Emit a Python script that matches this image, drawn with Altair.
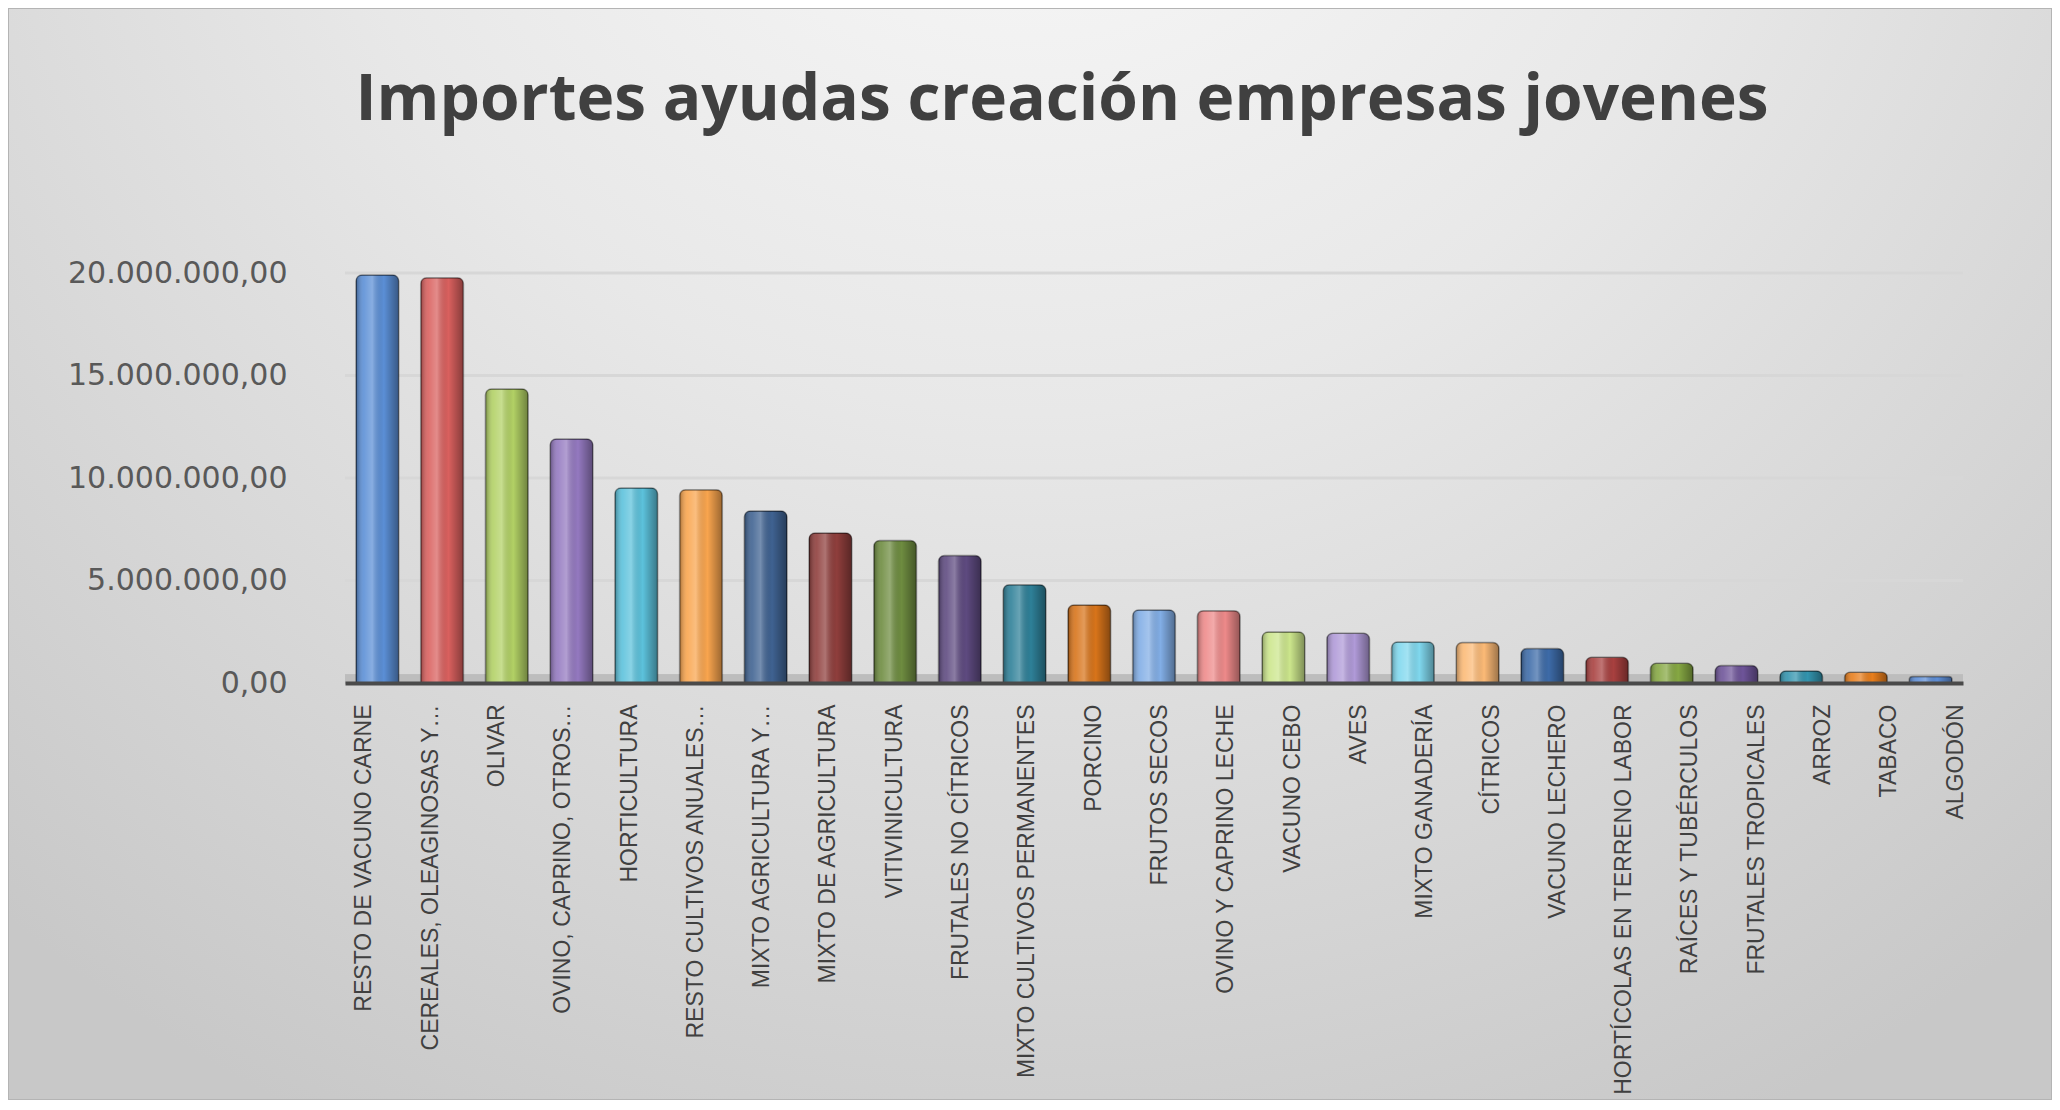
import altair as alt
import pandas as pd

title_text = "Importes ayudas creación empresas jovenes"

categories = [
    "RESTO DE VACUNO CARNE",
    "CEREALES, OLEAGINOSAS Y…",
    "OLIVAR",
    "OVINO, CAPRINO, OTROS…",
    "HORTICULTURA",
    "RESTO CULTIVOS ANUALES…",
    "MIXTO AGRICULTURA Y…",
    "MIXTO DE AGRICULTURA",
    "VITIVINICULTURA",
    "FRUTALES NO CÍTRICOS",
    "MIXTO CULTIVOS PERMANENTES",
    "PORCINO",
    "FRUTOS SECOS",
    "OVINO Y CAPRINO LECHE",
    "VACUNO CEBO",
    "AVES",
    "MIXTO GANADERÍA",
    "CÍTRICOS",
    "VACUNO LECHERO",
    "HORTÍCOLAS EN TERRENO LABOR",
    "RAÍCES Y TUBÉRCULOS",
    "FRUTALES TROPICALES",
    "ARROZ",
    "TABACO",
    "ALGODÓN",
]

values = [
    19900000, 19770000, 14340000, 11900000, 9510000, 9430000, 8390000,
    7320000, 6950000, 6220000, 4790000, 3800000, 3560000, 3530000,
    2490000, 2430000, 2000000, 1970000, 1680000, 1260000, 960000,
    850000, 590000, 530000, 320000,
]

bar_colors = [
    "#5B8FD6", "#D9605E", "#B2D165", "#9479C0", "#5CC2DC", "#F9A54E",
    "#3F6291", "#8F3E3C", "#6E8C40", "#5E4A80", "#2E8098", "#D8741A",
    "#82AEE6", "#EE8A8A", "#CCE68C", "#B09AD8", "#80D8EE", "#FCBA76",
    "#3D6BA8", "#A8403F", "#86A843", "#6E5499", "#3394AE", "#E87E1C",
    "#5E8ED6",
]

tick_values = [0, 5000000, 10000000, 15000000, 20000000]

df = pd.DataFrame({"cat": categories, "val": values})
grid_df = pd.DataFrame({"val": tick_values[1:]})

W, H = 1618, 410
PAD = {"left": 337, "top": 265, "right": 89, "bottom": 417}

bg = alt.Chart(alt.Data(values=[{"k": 1}])).mark_rect(
    fill=alt.Gradient(
        gradient="radial",
        stops=[
            alt.GradientStop(color="#FBFBFB", offset=0),
            alt.GradientStop(color="#E8E8E8", offset=0.45),
            alt.GradientStop(color="#C8C8C8", offset=1),
        ],
        x1=0.5, y1=0.08, r1=0, x2=0.5, y2=0.08, r2=0.78,
    ),
    stroke="#B4B4B4",
    strokeWidth=2,
).encode(
    x=alt.value(-PAD["left"]),
    x2=alt.value(W + PAD["right"]),
    y=alt.value(-PAD["top"]),
    y2=alt.value(H + PAD["bottom"]),
)

yscale = alt.Scale(domain=[0, 20000000], nice=False)

grid = alt.Chart(grid_df).mark_rule(color="#D7D7D7", strokeWidth=3).encode(
    y=alt.Y("val:Q", scale=yscale, title=None)
)

floor = alt.Chart(grid_df).mark_rule(color="#BDBDBD", strokeWidth=9, yOffset=-4).encode(
    y=alt.datum(0)
)

xenc = alt.X(
    "cat:N",
    sort=categories,
    scale=alt.Scale(paddingInner=0.34, paddingOuter=0.17),
    axis=alt.Axis(
        title=None,
        labelAngle=-90,
        labelFont="Liberation Sans",
        labelFontSize=23,
        labelColor="#404040",
        labelPadding=21,
        labelLimit=600,
        labelOffset=alt.ExprRef("-13 + 38 * datum.index"),
        ticks=False,
        domainColor="#4A4A4A",
        domainWidth=4,
        zindex=1,
    ),
)
yenc = alt.Y(
    "val:Q",
    scale=yscale,
    title=None,
    axis=alt.Axis(
        values=tick_values,
        format=",.2f",
        labelFont="DejaVu Sans",
        labelFontSize=30,
        labelColor="#595959",
        labelPadding=58,
        labelLimit=400,
        ticks=False,
        domain=False,
        grid=False,
        zindex=1,
    ),
)

bars = alt.Chart(df).mark_bar(cornerRadiusTopLeft=6, cornerRadiusTopRight=6).encode(
    x=xenc,
    y=yenc,
    color=alt.Color("cat:N", scale=alt.Scale(domain=categories, range=bar_colors), legend=None),
)

shade = alt.Chart(df).mark_bar(
    cornerRadiusTopLeft=6,
    cornerRadiusTopRight=6,
    fill=alt.Gradient(
        gradient="linear",
        stops=[
            alt.GradientStop(color="rgba(0,0,0,0.32)", offset=0),
            alt.GradientStop(color="rgba(255,255,255,0.10)", offset=0.18),
            alt.GradientStop(color="rgba(255,255,255,0.28)", offset=0.38),
            alt.GradientStop(color="rgba(0,0,0,0.0)", offset=0.65),
            alt.GradientStop(color="rgba(0,0,0,0.38)", offset=1),
        ],
        x1=0, x2=1, y1=0, y2=0,
    ),
    stroke="rgba(0,0,0,0.35)",
    strokeWidth=1.5,
).encode(x=alt.X("cat:N", sort=categories), y=alt.Y("val:Q", scale=yscale))

chart = alt.layer(bg, grid, floor, bars, shade).properties(
    width=W,
    height=H,
    autosize=alt.AutoSizeParams(type="none"),
    padding=PAD,
    title=alt.TitleParams(
        title_text,
        font="Open Sans",
        fontSize=64,
        fontWeight="bold",
        color="#404040",
        anchor="middle",
        frame="group",
        dx=-92,
        offset=-177,
        baseline="alphabetic",
        zindex=1,
    ),
).configure_view(stroke=None).configure(
    locale={"number": {"decimal": ",", "thousands": ".", "grouping": [3], "currency": ["", " €"]}}
)

chart.save("out.html", embed_options={"renderer": "svg", "actions": False})
